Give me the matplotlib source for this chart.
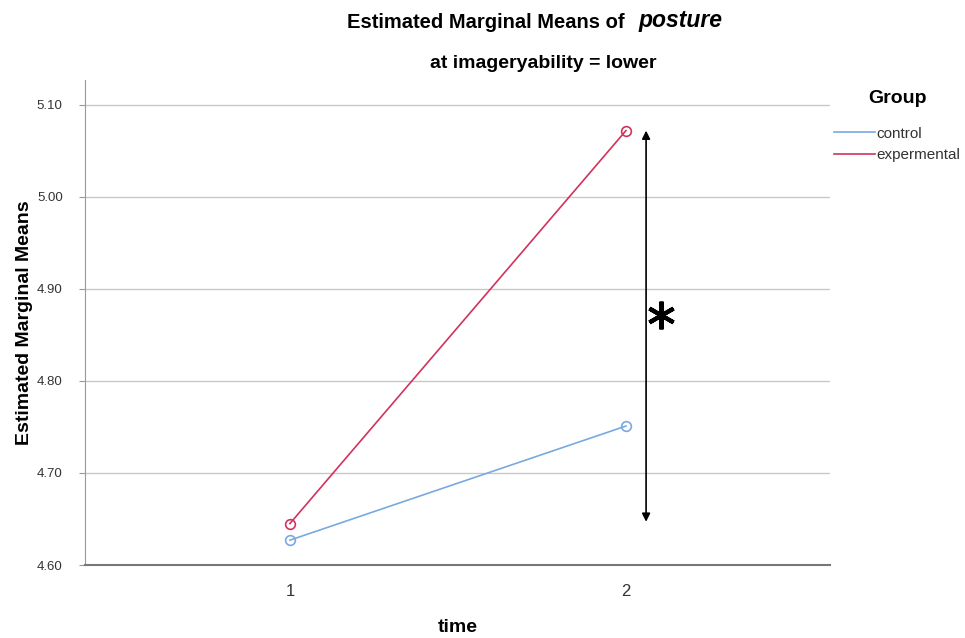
import matplotlib
matplotlib.use("Agg")
import matplotlib.pyplot as plt
from matplotlib.lines import Line2D

times = [1, 2]
tick_labels = ["1", "2"]
control = [4.627, 4.751]
experimental = [4.645, 5.072]
yticks = [4.60, 4.70, 4.80, 4.90, 5.00, 5.10]

plt.rcParams['font.family'] = ['Liberation Sans', 'DejaVu Sans']

fig = plt.figure(figsize=(9.65, 6.38), dpi=100)
ax = fig.add_axes([0.088, 0.1144, 0.772, 0.7602])

ax.set_xlim(0.39, 2.607)
ax.set_ylim(4.60, 5.127)

for yv in yticks[1:]:
    ax.axhline(yv, color="#c8c8c8", lw=1.0, zorder=0)

c_col = "#79a9e0"
e_col = "#d1335c"
ax.plot(times, control, color=c_col, lw=1.2, marker="o", ms=7, mfc="none", mec=c_col, mew=1.2)
ax.plot(times, experimental, color=e_col, lw=1.2, marker="o", ms=7, mfc="none", mec=e_col, mew=1.2)

ax.annotate("", xy=(2.06, 5.072), xytext=(2.06, 4.647),
            arrowprops=dict(arrowstyle="<|-|>", color="black", lw=1.2, mutation_scale=12, shrinkA=0, shrinkB=0))
ax.plot([2.104], [4.872], marker=(6, 2, 0), ms=20, mew=3.0, color="black", linestyle="none")

ax.set_xticks(times)
ax.set_xticklabels(tick_labels, fontsize=12, color="#333333")
ax.set_yticks(yticks)
ax.set_yticklabels([f"{v:.2f}" for v in yticks], fontsize=9.5, color="#333333")
ax.tick_params(axis="x", length=0, pad=14)
ax.tick_params(axis="y", length=4, color="#999999", pad=12)

for s in ["top", "right"]:
    ax.spines[s].set_visible(False)
ax.spines["left"].set_color("#999999")
ax.spines["bottom"].set_color("#777777")
ax.spines["bottom"].set_linewidth(1.5)

ax.set_xlabel("time", fontsize=14, fontweight="bold", labelpad=14)
ax.set_ylabel("Estimated Marginal Means", fontsize=14, fontweight="bold", labelpad=3)

fig.text(0.653, 0.965, "Estimated Marginal Means of ", fontsize=14.5, fontweight="bold", ha="right", va="center")
fig.text(0.662, 0.968, "posture", fontsize=16.5, fontweight="bold", style="italic", ha="left", va="center")
fig.text(0.563, 0.901, "at imageryability = lower", fontsize=14, fontweight="bold", ha="center", va="center")

handles = [Line2D([], [], color=c_col, lw=1.2), Line2D([], [], color=e_col, lw=1.2)]
leg = fig.legend(handles=handles, labels=["control", "expermental"],
                 loc="upper left", bbox_to_anchor=(0.858, 0.868), frameon=False,
                 fontsize=11, handlelength=2.7, handletextpad=0.05, borderaxespad=0,
                 title="Group", labelspacing=0.5)
leg.get_title().set_fontsize(14)
leg.get_title().set_fontweight("bold")
leg._legend_box.sep = 14
for t in leg.get_texts():
    t.set_color("#333333")

fig.savefig("out.png", dpi=100)
